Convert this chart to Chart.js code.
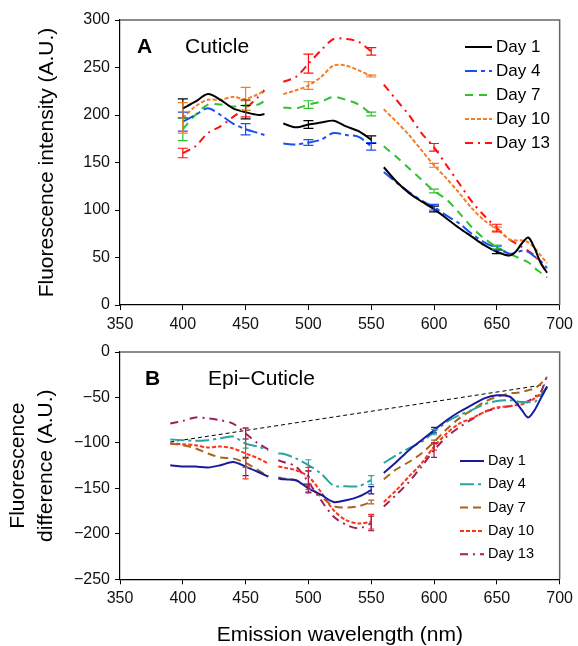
<!DOCTYPE html>
<html>
<head>
<meta charset="utf-8">
<script src="https://cdn.jsdelivr.net/npm/chart.js@4.4.1/dist/chart.umd.min.js"></script>
<style>
  html, body { margin: 0; padding: 0; background: #fff; overflow: hidden; }
  #wrap { position: relative; width: 578px; height: 646px; }
  #chartA { position: absolute; left: 0; top: 0; }
  #chartB { position: absolute; left: 0; top: 330px; }
</style>
</head>
<body>
<div id="wrap">
  <canvas id="chartA" width="578" height="345"></canvas>
  <canvas id="chartB" width="578" height="318"></canvas>
</div>
<script>
// ---- Panel A: Cuticle ----
// null entries split the curve into its three measured ranges
const waveA = [400, 410, 420, 430, 440, 450, 460, 465, 472,
  480, 490, 500, 510, 520, 530, 540, 550, 555,
  560, 570, 580, 590, 600, 610, 620, 630, 640, 650, 660, 665, 670, 675, 680, 685, 690];
const cutDay1 = [207, 214, 222, 216, 207, 203, 200, 201, null,
  191, 187, 190, 192, 194, 188, 183, 174, null,
  145, 130, 118, 109, 101, 91, 81, 72, 63, 56, 52, 56, 65, 71, 60, 44, 34];
const cutDay4 = [193, 200, 207, 200, 191, 185, 181, 179, null,
  170, 169, 171, 174, 181, 179, 177, 167, null,
  140, 129, 119, 110, 103, 94, 86, 75, 66, 60, 54, 55, 57, 56, 51, 46, 39];
const cutDay7 = [185, 200, 211, 211, 209, 210, 211, 215, null,
  208, 207, 211, 214, 219, 216, 211, 201, null,
  167, 156, 144, 132, 120, 111, 97, 82, 70, 61, 54, 51, 48, 45, 39, 34, 29];
const cutDay10 = [197, 209, 216, 216, 219, 217, 222, 226, null,
  222, 226, 231, 240, 252, 252, 247, 241, null,
  206, 193, 179, 163, 147, 133, 118, 102, 89, 80, 69, 68, 68, 66, 60, 52, 44];
const cutDay13 = [160, 167, 181, 188, 198, 207, 219, 226, null,
  235, 240, 254, 268, 280, 280, 277, 267, null,
  232, 216, 200, 181, 166, 147, 128, 109, 94, 81, 69, 65, 61, 57, 52, 44, 33];
const errWaveA = [400, 450, 500, 550, 600, 650];
const errCut1 = [10, 7, 4, 4, 3, 2];
const errCut4 = [10, 6, 3, 4, 3, 2];
const errCut7 = [12, 5, 4, 2, 2, 2];
const errCut10 = [16, 12, 4, 1, 2, 2];
const errCut13 = [5, 9, 10, 4, 4, 4];

// ---- Panel B: Epi-Cuticle ----
const waveB = [390, 400, 410, 420, 430, 440, 450, 460, 468, 472,
  476, 480, 490, 500, 510, 520, 530, 540, 550, 555,
  560, 570, 580, 590, 600, 610, 620, 630, 640, 650, 660, 665, 670, 675, 680, 685, 690];
const epiDay1 = [-124.5, -126, -126, -127, -124.5, -121, -126, -132, -137, null,
  -139, -140, -141, -150, -157, -165, -163, -159, -152, null,
  -133, -121, -108, -97, -86, -75, -66, -58.5, -51, -47.6, -49, -55, -64, -72, -64, -51, -38];
const epiDay4 = [-96.3, -97, -97.7, -97, -95, -93, -100.7, -104, -108, null,
  -111.6, -112, -117, -124.5, -133.6, -147, -147.6, -147.6, -141, null,
  -122, -113.5, -106, -99, -88, -77, -69.5, -64, -57.5, -53.8, -53, -54, -55, -55, -55, -47.6, -38];
const epiDay7 = [-100.7, -102.5, -106, -111.6, -116, -117, -122, -130, -137, null,
  -138, -139, -141, -148, -159, -169.5, -171, -169.5, -165, null,
  -140, -129, -121, -111.6, -99, -85, -73, -64, -55, -49.4, -45.7, -45, -44, -42, -40, -34.8, -27.4];
const epiDay10 = [-100.7, -101.4, -102.5, -105, -104, -106, -111.6, -117, -122.6, null,
  -126, -127, -130, -137, -154, -174, -185, -188.5, -186.7, null,
  -165, -152, -137, -122.6, -104, -89.7, -78.7, -73, -66, -61, -59.7, -58.5, -57.5, -55, -51, -45.7, -40];
const epiDay13 = [-78.7, -75.8, -72, -73, -75, -78.7, -89.7, -100.7, -107, null,
  -119, -121, -126, -143, -163, -181, -190, -194, -188.5, null,
  -170, -157, -143, -126, -108, -93.3, -83, -74, -66, -62, -59.7, -58, -56, -54, -49.4, -44, -25.6];
const errWaveB = [450, 500, 550, 600];
const errEpi1 = [10, 4, 4, 3];
const errEpi4 = [5, 6, 5, 3];
const errEpi7 = [5, 3, 2, 2];
const errEpi10 = [28, 10, 8, 4];
const errEpi13 = [6, 12, 8, 8];
const refLineX = [390, 688];
const refLineY = [-99, -36];

const dayLabels = ['Day 1', 'Day 4', 'Day 7', 'Day 10', 'Day 13'];

Chart.defaults.font.family = "'Liberation Sans', Arial, sans-serif";
Chart.defaults.color = '#000';

function points(wave, vals) {
  return wave.map((w, i) => ({ x: w, y: vals[i] }));
}

function line(label, wave, vals, color, dash, errAt, errSize) {
  return {
    label: label,
    data: points(wave, vals),
    borderColor: color,
    borderDash: dash,
    borderWidth: 2,
    pointRadius: 0,
    tension: 0.3,
    fill: false,
    errAt: errAt,
    errSize: errSize
  };
}

// error bars, drawn from the same scales as the lines
const errorBars = {
  id: 'errorBars',
  afterDatasetsDraw(chart, args, opts) {
    const { ctx, scales: { x, y } } = chart;
    chart.data.datasets.forEach(ds => {
      if (!ds.errAt) return;
      ctx.save();
      ctx.strokeStyle = ds.borderColor;
      ctx.lineWidth = 1.2;
      ctx.setLineDash([]);
      ds.errAt.forEach((wl, i) => {
        const pt = ds.data.find(p => p.x === wl);
        if (!pt || pt.y == null) return;
        const px = x.getPixelForValue(wl);
        const top = y.getPixelForValue(pt.y + ds.errSize[i]);
        const bot = y.getPixelForValue(pt.y - ds.errSize[i]);
        ctx.beginPath();
        ctx.moveTo(px, top); ctx.lineTo(px, bot);
        ctx.moveTo(px - opts.cap, top); ctx.lineTo(px + opts.cap, top);
        ctx.moveTo(px - opts.cap, bot); ctx.lineTo(px + opts.cap, bot);
        ctx.stroke();
      });
      ctx.restore();
    });
  }
};

// frame, panel letter/title and in-plot legend
const panelDecor = {
  id: 'panelDecor',
  afterDraw(chart, args, opts) {
    const { ctx, chartArea: a } = chart;
    ctx.save();
    ctx.strokeStyle = '#666';
    ctx.lineWidth = 1.5;
    ctx.beginPath();
    ctx.moveTo(a.left, a.top); ctx.lineTo(a.right, a.top); ctx.lineTo(a.right, a.bottom);
    ctx.stroke();

    ctx.fillStyle = '#000';
    ctx.textBaseline = 'middle';
    ctx.font = "bold 21px 'Liberation Sans', Arial, sans-serif";
    ctx.fillText(opts.letter, a.left + opts.letterX, a.top + 27);
    ctx.font = "21px 'Liberation Sans', Arial, sans-serif";
    ctx.fillText(opts.title, a.left + opts.titleX, a.top + 27);

    ctx.font = opts.legendFont + "px 'Liberation Sans', Arial, sans-serif";
    let row = 0;
    chart.data.datasets.forEach(ds => {
      if (ds.noLegend) return;
      const yy = opts.legendY + row * opts.legendStep;
      ctx.strokeStyle = ds.borderColor;
      ctx.lineWidth = 2;
      ctx.setLineDash(ds.borderDash || []);
      ctx.beginPath();
      ctx.moveTo(opts.legendX, yy);
      ctx.lineTo(opts.legendX + opts.legendLen, yy);
      ctx.stroke();
      ctx.setLineDash([]);
      ctx.fillText(ds.label, opts.legendX + opts.legendLen + 4, yy);
      row++;
    });
    ctx.restore();
  }
};

function axisOptions(yMin, yMax, yTitle, yTitlePad, xHeight, xTitle) {
  return {
    x: {
      type: 'linear', min: 350, max: 700,
      ticks: { stepSize: 50, font: { size: 16 }, padding: 5, color: '#111' },
      grid: { drawOnChartArea: false, drawTicks: true, tickLength: 5, color: '#000' },
      border: { display: true, color: '#000', width: 1.2 },
      title: xTitle ? { display: true, text: xTitle, font: { size: 21 }, padding: { top: 0, bottom: 0 }, color: '#000' } : { display: false },
      afterFit: s => { s.height = xHeight; }
    },
    y: {
      type: 'linear', min: yMin, max: yMax,
      ticks: {
        stepSize: 50, font: { size: 16 }, padding: 5, color: '#111',
        callback: v => (v < 0 ? '\u2212' + Math.abs(v) : '' + v)
      },
      grid: { drawOnChartArea: false, drawTicks: true, tickLength: 5, color: '#000' },
      border: { display: true, color: '#000', width: 1.2 },
      title: { display: true, text: yTitle, font: { size: 21, lineHeight: 1.3 }, padding: { top: yTitlePad, bottom: 0 }, color: '#000' },
      afterFit: s => { s.width = 120; }
    }
  };
}

new Chart(document.getElementById('chartA'), {
  type: 'line',
  data: {
    datasets: [
      line(dayLabels[0], waveA, cutDay1, '#000000', [], errWaveA, errCut1),
      line(dayLabels[1], waveA, cutDay4, '#1a4ff0', [12, 4, 4, 4], errWaveA, errCut4),
      line(dayLabels[2], waveA, cutDay7, '#2fc22f', [8, 6], errWaveA, errCut7),
      line(dayLabels[3], waveA, cutDay10, '#f07f2a', [4, 2], errWaveA, errCut10),
      line(dayLabels[4], waveA, cutDay13, '#ff1010', [8, 5, 2, 5], errWaveA, errCut13)
    ]
  },
  options: {
    responsive: false,
    animation: false,
    layout: { padding: { left: 0, right: 18, top: 20, bottom: 0 } },
    plugins: {
      legend: { display: false },
      tooltip: { enabled: false },
      errorBars: { cap: 5 },
      panelDecor: { letter: 'A', letterX: 17, title: 'Cuticle', titleX: 65,
        legendX: 465, legendLen: 27, legendY: 47, legendStep: 24, legendFont: 17 }
    },
    scales: axisOptions(0, 300, 'Fluorescence intensity (A.U.)', 34, 40, null)
  },
  plugins: [errorBars, panelDecor]
});

const refLine = {
  label: 'ref',
  data: refLineX.map((x, i) => ({ x: x, y: refLineY[i] })),
  borderColor: '#000',
  borderDash: [4, 3],
  borderWidth: 1,
  pointRadius: 0,
  tension: 0,
  noLegend: true
};

new Chart(document.getElementById('chartB'), {
  type: 'line',
  data: {
    datasets: [
      line(dayLabels[0], waveB, epiDay1, '#1a1a9c', [], errWaveB, errEpi1),
      line(dayLabels[1], waveB, epiDay4, '#2aa3a3', [14, 4, 3, 4], errWaveB, errEpi4),
      line(dayLabels[2], waveB, epiDay7, '#a8641c', [8, 5], errWaveB, errEpi7),
      line(dayLabels[3], waveB, epiDay10, '#ff3318', [4, 2], errWaveB, errEpi10),
      line(dayLabels[4], waveB, epiDay13, '#9c1f5e', [8, 5, 2, 5], errWaveB, errEpi13),
      refLine
    ]
  },
  options: {
    responsive: false,
    animation: false,
    layout: { padding: { left: 0, right: 18, top: 22, bottom: 0 } },
    plugins: {
      legend: { display: false },
      tooltip: { enabled: false },
      errorBars: { cap: 3 },
      panelDecor: { letter: 'B', letterX: 25, title: 'Epi\u2212Cuticle', titleX: 88,
        legendX: 460, legendLen: 24, legendY: 131, legendStep: 23.3, legendFont: 14.5 }
    },
    scales: axisOptions(-250, 0, ['Fluorescence', 'difference (A.U.)'], 5, 68.7, 'Emission wavelength (nm)')
  },
  plugins: [errorBars, panelDecor]
});
</script>
</body>
</html>
